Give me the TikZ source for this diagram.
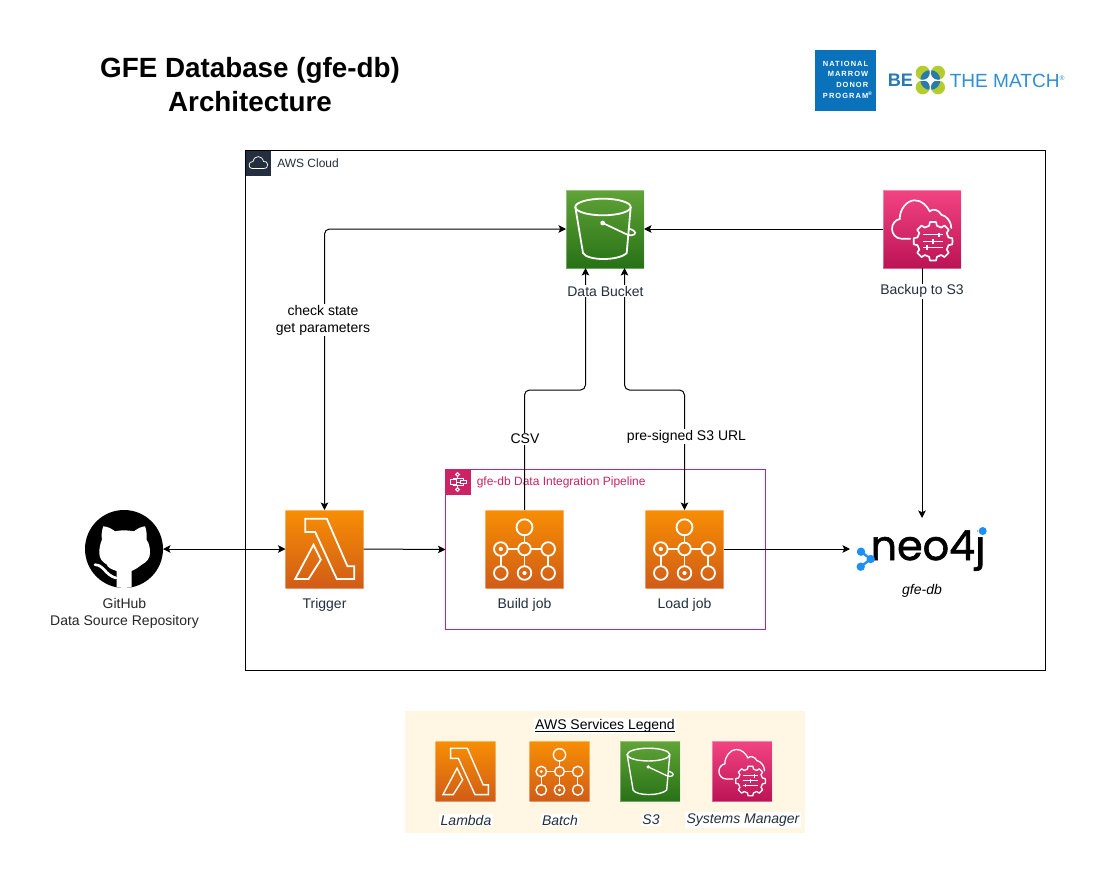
\documentclass[tikz,border=0pt]{standalone}
\usepackage{fontspec}
\setmainfont{Liberation Sans}
\newfontfamily\logofont[LetterSpace=14]{Liberation Sans}
\newfontfamily\neofont[FakeBold=1.4]{Poppins}
\usetikzlibrary{arrows.meta,calc}
\definecolor{awsink}{HTML}{232F3E}
\definecolor{pipecol}{HTML}{CD2264}
\definecolor{nmdpblue}{HTML}{0A72BA}
\definecolor{matchblue}{HTML}{2F8FD2}
\definecolor{matchgreen}{HTML}{B5CC2E}
\definecolor{legendbg}{HTML}{FFF6E4}
\definecolor{orangetop}{HTML}{F78E04}
\definecolor{orangebot}{HTML}{D05C17}
\definecolor{greentop}{HTML}{60A337}
\definecolor{greenbot}{HTML}{277116}
\definecolor{pinktop}{HTML}{F34482}
\definecolor{pinkbot}{HTML}{BC1356}
\definecolor{neoblue}{HTML}{1E90F5}
\newcommand\szA{\fontsize{10.5}{12.75}\selectfont}
\newcommand\szB{\fontsize{9}{11}\selectfont}
\tikzset{
  x=0.75pt,y=-0.75pt,
  wire/.style={draw=black,line width=0.75pt,rounded corners=3.75pt},
  tip/.style={-{Stealth[length=5.6pt,width=5.6pt,inset=1.2pt]}},
  tipboth/.style={{Stealth[length=5.6pt,width=5.6pt,inset=1.2pt]}-{Stealth[length=5.6pt,width=5.6pt,inset=1.2pt]}},
  icon/.style={inner sep=0pt,outer sep=0pt,minimum size=58.5pt,draw=white,draw opacity=.35,line width=.75pt},
  smallicon/.style={icon,minimum size=45pt},
  orangeicon/.style={top color=orangetop,bottom color=orangebot},
  greenicon/.style={top color=greentop,bottom color=greenbot},
  pinkicon/.style={top color=pinktop,bottom color=pinkbot},
  lbl/.style={font=\szA,text=awsink,align=center,inner sep=0.6pt,fill=white},
  edgelbl/.style={font=\szA,text=black,align=center,inner sep=1pt,fill=white},
  leglbl/.style={font=\szA\itshape,text=awsink,inner sep=1pt,fill=white},
  glyph/.style={draw=white,line join=miter,fill=none},
}
\newcommand\lambdaglyph[2]{\begin{scope}[shift={(#1)},scale=#2]
  \draw[glyph,line width=1.35pt*#2] (-19.3,-30.3) -- (2.3,-30.3) -- (23,17.3) -- (29.7,17.3) -- (29.7,30) -- (12.3,30) -- (-9.3,-17) -- (-19.3,-17) -- cycle;
  \draw[glyph,line width=1.35pt*#2] (-11,-4.3) -- (-3.7,10.7) -- (-16,30) -- (-29.3,30) -- cycle;
\end{scope}}
\newcommand\bucketglyph[2]{\begin{scope}[shift={(#1)},scale=#2]
  \draw[glyph,line width=1.35pt*#2] (-2,-22) ellipse [x radius=27.7,y radius=8.3];
  \draw[glyph,line width=1.35pt*#2] (-29.7,-22) -- (-22,24) .. controls (-18,32) and (14,32) .. (21.7,24) -- (25.7,-22);
  \draw[glyph,line width=1.25pt*#2] (-2.3,-6) -- (22,5.5) .. controls (29,8) and (32,4) .. (29,2) .. controls (27,0) and (25,0) .. (24,0);
  \fill[white] (-2.3,-6) circle (2.4);
\end{scope}}
\newcommand\batchglyph[2]{\begin{scope}[shift={(#1)},scale=#2]
  \draw[glyph,line width=1.25pt*#2] (0,-14.7) -- (0,-6) (-17,0) -- (-6,0) (6,0) -- (17,0) (-23.7,6.5) -- (-23.7,17) (23.7,6.5) -- (23.7,17) (0,6.5) -- (0,17);
  \draw[glyph,line width=1.35pt*#2] (0,-21.7) circle (8) (0,0) circle (6.3);
  \foreach \px/\py in {-23.7/0,23.7/0,-23.7/24,0/24,23.7/24}{\draw[glyph,line width=1.35pt*#2] (\px,\py) circle (6.8);}
  \fill[white] (-23.7,0) circle (2.1) (0,24) circle (2.1);
\end{scope}}
\newcommand\ssmglyph[2]{\begin{scope}[shift={(#1)},scale=#2]
  \draw[glyph,line width=1.25pt*#2,line cap=round] (-11.7,9.7) -- (-20.7,9.7) .. controls (-26,9.7) and (-30,5) .. (-30,0) .. controls (-30,-5) and (-27,-9) .. (-22.3,-10) .. controls (-22.3,-20) and (-15,-28.7) .. (-7.3,-28.7) .. controls (0,-28.7) and (5,-23) .. (7.7,-17.7) .. controls (11,-21) and (17,-19) .. (19.3,-14.3) .. controls (25,-13) and (29.3,-7) .. (29.3,-1);
  \draw[glyph,line width=1.25pt*#2,line join=round] ($(11,12.3)+(0:19.5)$)
    \foreach \ang in {0,45,...,315}{
      -- ($(11,12.3)+(\ang+9:19.5)$) -- ($(11,12.3)+(\ang+14:16)$) -- ($(11,12.3)+(\ang+31:16)$) -- ($(11,12.3)+(\ang+36:19.5)$)
    } -- cycle;
  \draw[glyph,line width=1pt*#2] (1,5.7) -- (21,5.7) (1,12.3) -- (21,12.3) (1,18.3) -- (21,18.3);
  \draw[glyph,line width=1.2pt*#2] (16.7,3.5) -- (16.7,8) (11,10) -- (11,14.6) (5,16) -- (5,20.6);
\end{scope}}
\begin{document}
\begin{tikzpicture}
\useasboundingbox (0,0) rectangle (1116,885);
\fill[white] (0,0) rectangle (1116,885);

% title
\node[font=\fontsize{20.85}{25.5}\selectfont\bfseries,align=center,text=black,inner sep=0] (title) at (250,85) {GFE Database (gfe-db)\\Architecture};

% NMDP logo
\node[fill=nmdpblue,minimum size=45.75pt,inner sep=0,outer sep=0] (nmdp) at (845.5,80.5) {};
\node[font=\fontsize{5.6}{8.15}\selectfont\logofont\bfseries,text=white,align=right,inner sep=0,anchor=east] (nmdptext) at (868.5,79.8) {NATIONAL\\MARROW\\DONOR\\PROGRAM\rlap{\textsuperscript{®}}};

% Be the match logo
\node[font=\fontsize{13.6}{16}\selectfont\bfseries,text=matchblue!85!black,inner sep=0,anchor=west] (be) at (887.5,80.5) {BE};
\foreach \px/\py in {922.7/72.7,938/72.7,922.7/87.3,938/87.3}{\fill[matchgreen] (\px,\py) circle (7);}
\begin{scope}
  \clip (930.3,80) circle (10);
  \foreach \px/\py in {922.7/72.7,938/72.7,922.7/87.3,938/87.3}{\fill[matchblue!85!black] (\px,\py) circle (7);}
\end{scope}
\fill[white] (930.3,75.5) -- (934.8,80) -- (930.3,84.5) -- (925.8,80) -- cycle;
\draw[white,line width=.6pt] (930.3,66) -- (930.3,94) (916,80) -- (945,80);
\node[font=\fontsize{14.3}{16}\selectfont,text=matchblue,inner sep=0,anchor=west] (match) at (949.5,80.5) {THE MATCH\textsuperscript{\fontsize{5}{5}\selectfont ®}};

% containers
\node[draw=black,line width=.75pt,minimum width=600pt,minimum height=390pt,inner sep=0,outer sep=0] (cloud) at (645.5,410.5) {};
\node[fill=awsink,minimum size=18.75pt,inner sep=0,outer sep=0,anchor=north west] (cloudicon) at (245.5,150.5) {};
\draw[white,line width=.55pt] ($(cloudicon.center)+(-6,5.5)$) -- ($(cloudicon.center)+(5.5,5.5)$) .. controls ($(cloudicon.center)+(12,5.5)$) and ($(cloudicon.center)+(10,-3)$) .. ($(cloudicon.center)+(5.5,-1.5)$) .. controls ($(cloudicon.center)+(4,-8)$) and ($(cloudicon.center)+(-3.5,-8)$) .. ($(cloudicon.center)+(-5,-1.5)$) .. controls ($(cloudicon.center)+(-10,-2)$) and ($(cloudicon.center)+(-10,5.5)$) .. cycle;
\node[font=\szB,text=awsink,anchor=west,inner sep=0] (cloudlabel) at (277,163.5) {AWS Cloud};

\node[draw=pipecol,line width=.75pt,minimum width=240pt,minimum height=120pt,inner sep=0,outer sep=0] (pipeline) at (605.5,549.5) {};
\node[fill=pipecol,minimum size=18.75pt,inner sep=0,outer sep=0,anchor=north west] (pipeicon) at (445.5,469.5) {};
\begin{scope}[shift={(pipeicon.center)}]
  \draw[white,line width=.7pt] (-8,-2.5) rectangle (-2,2.5) (2,-1.8) rectangle (8.5,1.8) (-2,0) -- (2,0) (-.5,-5.5) -- (-.5,-3.5) -- (-5,-3.5) -- (-5,-2.5) (-.5,5.5) -- (-.5,3.5) -- (-5,3.5) -- (-5,2.5) (-.5,-3.5) -- (5,-3.5) -- (5,-1.8) (-.5,3.5) -- (5,3.5) -- (5,1.8);
  \draw[white,line width=.7pt] (-.5,-7.5) circle (1.9) (-.5,7.5) circle (1.9);
\end{scope}
\node[font=\szB,text=pipecol,anchor=west,inner sep=0] (pipelabel) at (476.5,482.5) {gfe-db Data Integration Pipeline};

% service nodes
\node[icon,greenicon] (bucket) at (605,229) {};
\bucketglyph{bucket.center}{1}
\node[icon,pinkicon] (backup) at (922,229) {};
\ssmglyph{backup.center}{1}
\node[icon,orangeicon] (trigger) at (324.5,549) {};
\lambdaglyph{trigger.center}{1}
\node[icon,orangeicon] (build) at (524.5,549) {};
\batchglyph{build.center}{1}
\node[icon,orangeicon] (load) at (684.5,549) {};
\batchglyph{load.center}{1}

% GitHub
\node[circle,fill=black,minimum size=58.5pt,inner sep=0,outer sep=0] (github) at (124,549) {};
\begin{scope}
  \clip (github.center) circle (38.9);
  \begin{scope}[shift={(github.center)}]
    \fill[white] (-7.3,42) -- (-7.3,22) .. controls (-14,20) and (-17,17.5) .. (-17,15.7) .. controls (-22,13) and (-24.7,9) .. (-24.7,4) .. controls (-24.7,-2) and (-23.5,-6) .. (-22,-9.3) .. controls (-23,-14) and (-22,-19) .. (-20.7,-22.7) .. controls (-16,-22.5) and (-12,-20) .. (-9,-17.7) .. controls (-3,-19) and (3,-19) .. (10,-17.7) .. controls (13,-20) and (17,-22.5) .. (21,-22.7) .. controls (22.5,-19) and (23,-14) .. (22.5,-9.3) .. controls (25,-6) and (26,-2) .. (26,4) .. controls (26,9) and (23,13) .. (17.7,15.7) .. controls (15,18) and (12,20) .. (7.7,22) -- (7.7,42) -- cycle;
    \draw[white,line width=2pt,line cap=round] (-29,15.7) .. controls (-20,16) and (-19,26) .. (-8,29);
  \end{scope}
\end{scope}

% neo4j
\node[inner sep=0,outer sep=0,minimum width=108pt,minimum height=46.5pt] (neo) at (922,549) {};
\node[font=\fontsize{31}{36}\selectfont\neofont,text=black,inner sep=0,anchor=base] (neotext) at (928,560) {neo4j};
\fill[white] (978,526) rectangle (990,534);
\fill[neoblue] (982.7,531) circle (4);
\draw[neoblue,line width=1.8pt] (861,551.7) -- (870.7,559) -- (860.7,566.7);
\fill[neoblue] (861,551.7) circle (4.2) (870.7,559) circle (4.2) (860.7,566.7) circle (4.2);
\node[font=\szA\itshape,text=black,inner sep=0] (neolabel) at (922,591) {gfe-db};

% helper points for the bucket's two lower connections and routing
\coordinate (bucketA) at ($(bucket.south)+(-19.5,0)$);
\coordinate (bucketB) at ($(bucket.south)+(19.5,0)$);
\coordinate (jogY) at (0,390);

% connectors
\draw[wire,tipboth] (github.east) -- (trigger.west);
\draw[wire,tip] (trigger.east) -- (pipeline.west);
\draw[wire,tip] (load.east) -- (neo.west);
\draw[wire,tip] (backup.south) -- (neo.north);
\draw[wire,tip] (backup.west) -- (bucket.east);
\draw[wire,tipboth] (trigger.north) -- (trigger.north |- bucket.west) -- (bucket.west);
\draw[wire,tip] (build.north) -- (build.north |- jogY) -- (bucketA |- jogY) -- (bucketA);
\draw[wire,tipboth] (bucketB) -- (bucketB |- jogY) -- (load.north |- jogY) -- (load.north);

% labels
\node[lbl] (bucketlabel) at (605.5,291.3) {Data Bucket};
\node[lbl] (backuplabel) at (922,291.3) {Backup to S3};
\node[lbl] (triggerlabel) at (324.5,604.5) {Trigger};
\node[lbl] (buildlabel) at (524.5,604.5) {Build job};
\node[lbl] (loadlabel) at (684.5,604.5) {Load job};
\node[font=\szA,text=black!85,align=center,inner sep=0] (githublabel) at (124.5,613) {GitHub\\Data Source Repository};
\node[edgelbl] (statelabel) at (323,320) {check state\\get parameters};
\node[edgelbl] (csvlabel) at (525,439) {CSV};
\node[edgelbl] (urllabel) at (686.5,436.5) {pre-signed S3 URL};

% legend
\fill[legendbg] (405,711) rectangle (805,833);
\node[font=\szA,text=black,fill=white,inner sep=1pt] (legendtitle) at (605,726) {\setbox0\hbox{AWS Services Legend}\rlap{\rule[-1.35pt]{\wd0}{.6pt}}\box0};
\node[smallicon,orangeicon] (leglambda) at (465.5,771.5) {};
\lambdaglyph{leglambda.center}{0.769}
\node[smallicon,orangeicon] (legbatch) at (559.5,771.5) {};
\batchglyph{legbatch.center}{0.769}
\node[smallicon,greenicon] (legs3) at (650,771.5) {};
\bucketglyph{legs3.center}{0.769}
\node[smallicon,pinkicon] (legssm) at (742,771.5) {};
\ssmglyph{legssm.center}{0.769}
\node[leglbl] (leglambdal) at (466,820) {Lambda};
\node[leglbl] (legbatchl) at (560,820) {Batch};
\node[leglbl] (legs3l) at (651,820) {S3};
\node[leglbl] (legssml) at (743,820) {Systems Manager};
\end{tikzpicture}
\end{document}
